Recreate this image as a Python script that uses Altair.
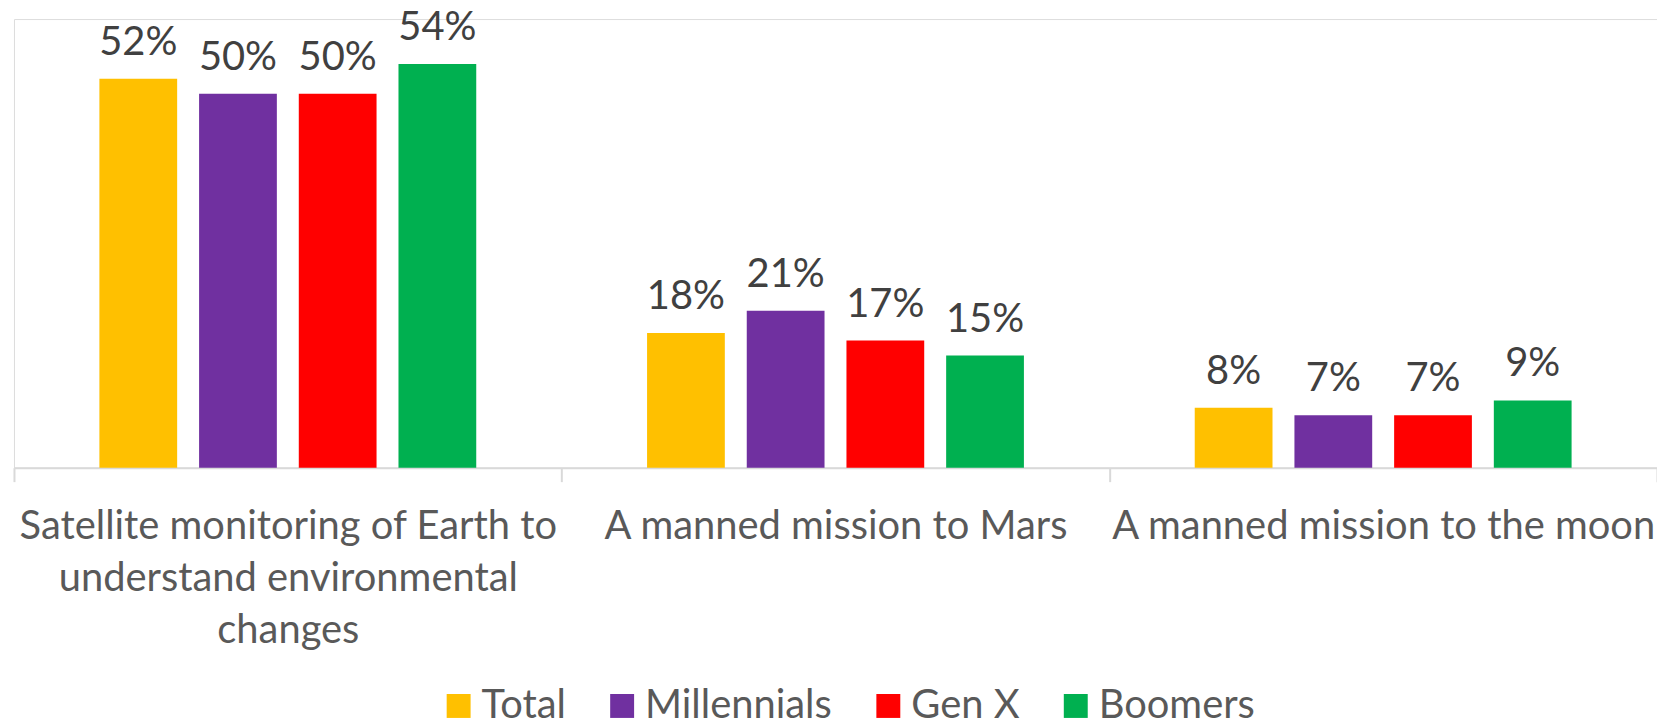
import altair as alt
import pandas as pd

categories = [
    "Satellite monitoring of Earth to understand environmental changes",
    "A manned mission to Mars",
    "A manned mission to the moon",
]
label_lines = {
    "Satellite monitoring of Earth to understand environmental changes": [
        "Satellite monitoring of Earth to",
        "understand environmental",
        "changes",
    ],
}
series = ["Total", "Millennials", "Gen X", "Boomers"]
colors = ["#FFC000", "#7030A0", "#FF0000", "#00B050"]
total = [52, 18, 8]
millennials = [50, 21, 7]
genx = [50, 17, 7]
boomers = [54, 15, 9]

rows = []
for s, vals in zip(series, [total, millennials, genx, boomers]):
    for c, v in zip(categories, vals):
        rows.append({"category": c, "series": s, "value": v})
df = pd.DataFrame(rows)

expr_parts = []
for k, lines in label_lines.items():
    arr = "[" + ",".join("'" + l + "'" for l in lines) + "]"
    expr_parts.append(f"datum.value == '{k}' ? {arr} : ")
label_expr = "".join(expr_parts) + "datum.label"

FONT = "Lato"

base = alt.Chart(df).encode(
    x=alt.X(
        "category:N",
        sort=categories,
        scale=alt.Scale(paddingInner=0, paddingOuter=0),
        axis=alt.Axis(
            title=None,
            labelAngle=0,
            labelExpr=label_expr,
            labelFont=FONT,
            labelFontSize=40,
            labelColor="#595959",
            labelLineHeight=52,
            labelPadding=25,
            labelLimit=1000,
            labelBaseline="top",
            domainColor="#D9D9D9",
            domainWidth=2,
            tickColor="#D9D9D9",
            tickWidth=2,
            tickSize=14,
            tickBand="extent",
            labelOverlap=False,
        ),
    ),
    xOffset=alt.XOffset(
        "series:N",
        sort=series,
        scale=alt.Scale(paddingInner=0.22, paddingOuter=0.8567),
    ),
    y=alt.Y("value:Q", scale=alt.Scale(domain=[0, 60]), axis=None),
)

bars = base.mark_bar().encode(
    color=alt.Color(
        "series:N",
        sort=series,
        scale=alt.Scale(domain=series, range=colors),
        legend=alt.Legend(
            title=None,
            orient="none",
            direction="horizontal",
            legendX=426,
            legendY=669,
            symbolType="square",
            symbolSize=576,
            symbolStrokeWidth=0,
            symbolOpacity=1,
            labelFont=FONT,
            labelFontSize=40,
            labelColor="#595959",
            labelOffset=3,
            labelLimit=1000,
            columnPadding=36,
            padding=0,
        ),
    )
)

texts = base.mark_text(
    baseline="alphabetic", dy=-24, fontSize=40, font=FONT, color="#404040"
).transform_calculate(lab="datum.value + '%'").encode(text="lab:N")

chart = (
    alt.layer(bars, texts)
    .properties(
        width=1648,
        height=450,
        autosize=alt.AutoSizeParams(type="none"),
        padding={"left": 6, "top": 10, "right": 0, "bottom": 252},
    )
    .configure_view(stroke=None)
    .configure(background="white")
)

chart.save("out.html", embed_options={"renderer": "svg", "actions": False})
